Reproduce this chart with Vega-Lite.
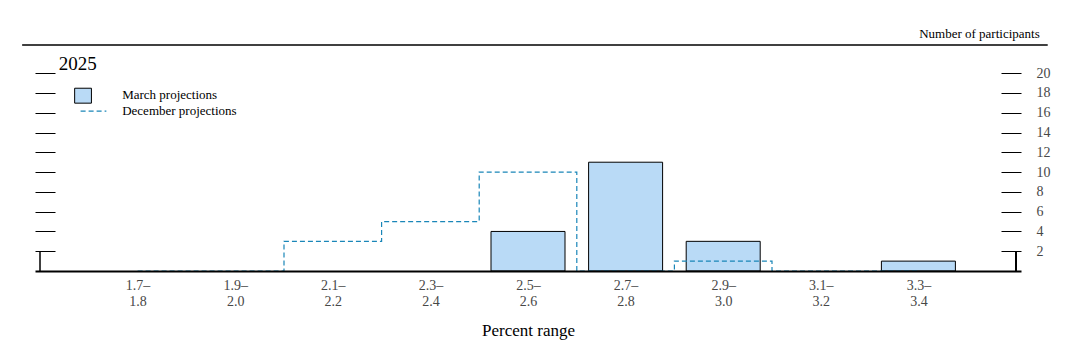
{
  "$schema": "https://vega.github.io/schema/vega-lite/v6.json",
  "width": 986,
  "height": 226,
  "autosize": {"type": "none"},
  "padding": {"left": 35, "top": 45, "right": 57, "bottom": 87},
  "background": "white",
  "config": {"view": {"stroke": null}, "font": "Liberation Serif"},
  "datasets": {
    "counts": [
      {"k": 1, "range": "1.7–1.8", "march": 0, "december": 0},
      {"k": 2, "range": "1.9–2.0", "march": 0, "december": 0},
      {"k": 3, "range": "2.1–2.2", "march": 0, "december": 3},
      {"k": 4, "range": "2.3–2.4", "march": 0, "december": 5},
      {"k": 5, "range": "2.5–2.6", "march": 4, "december": 10},
      {"k": 6, "range": "2.7–2.8", "march": 11, "december": 0},
      {"k": 7, "range": "2.9–3.0", "march": 3, "december": 1},
      {"k": 8, "range": "3.1–3.2", "march": 0, "december": 0},
      {"k": 9, "range": "3.3–3.4", "march": 1, "december": 0}
    ],
    "one": [{"item": 1}]
  },
  "data": {"name": "one"},
  "resolve": {"axis": {"y": "independent"}},
  "layer": [
    {
      "data": {"name": "counts"},
      "transform": [{"filter": "datum.march > 0"}],
      "mark": {"type": "bar", "width": 74, "fill": "#b9daf6", "stroke": "black", "strokeWidth": 1},
      "encoding": {
        "x": {
          "field": "k", "type": "quantitative",
          "scale": {"domain": [0, 10], "nice": false, "zero": false},
          "axis": {
            "orient": "bottom", "values": [1, 2, 3, 4, 5, 6, 7, 8, 9],
            "ticks": false, "grid": false, "zindex": 1,
            "domain": true, "domainColor": "black", "domainWidth": 2,
            "labelExpr": "[[''], ['1.7–','1.8'], ['1.9–','2.0'], ['2.1–','2.2'], ['2.3–','2.4'], ['2.5–','2.6'], ['2.7–','2.8'], ['2.9–','3.0'], ['3.1–','3.2'], ['3.3–','3.4']][datum.value]",
            "labelFont": "Liberation Serif", "labelFontSize": 14, "labelColor": "#474747",
            "labelBaseline": "top", "labelPadding": 7, "labelLineHeight": 16,
            "labelFlush": false, "labelOverlap": false,
            "title": "Percent range", "titleFont": "Liberation Serif", "titleFontSize": 17,
            "titleFontWeight": "normal", "titleColor": "black", "titlePadding": 14
          }
        },
        "y": {
          "field": "march", "type": "quantitative",
          "scale": {"domain": [0, 22.85], "nice": false, "zero": true},
          "axis": {
            "orient": "left", "values": [2, 4, 6, 8, 10, 12, 14, 16, 18, 20],
            "offset": -20, "tickSize": 20, "tickColor": "black", "tickWidth": 1,
            "labels": false, "domain": false, "grid": false, "title": null
          }
        }
      }
    },
    {
      "data": {"name": "counts"},
      "mark": {"type": "line", "interpolate": "step", "stroke": "#1a86b8", "strokeWidth": 1.2, "strokeDash": [5, 3]},
      "encoding": {
        "x": {"field": "k", "type": "quantitative"},
        "y": {
          "field": "december", "type": "quantitative",
          "axis": {
            "orient": "right", "values": [2, 4, 6, 8, 10, 12, 14, 16, 18, 20],
            "offset": -20, "tickSize": 20, "tickColor": "black", "tickWidth": 1,
            "labelPadding": 15, "labelFont": "Liberation Serif", "labelFontSize": 14,
            "labelColor": "#474747", "labelAlign": "left",
            "domain": false, "grid": false, "title": null
          }
        }
      }
    },
    {
      "mark": {"type": "rule", "stroke": "black", "strokeWidth": 1.5},
      "encoding": {
        "x": {"datum": 0, "type": "quantitative"},
        "y": {"datum": 0, "type": "quantitative", "axis": null},
        "y2": {"datum": 2}
      }
    },
    {
      "mark": {"type": "rule", "stroke": "black", "strokeWidth": 2},
      "encoding": {
        "x": {"datum": 10, "type": "quantitative"},
        "y": {"datum": 0, "type": "quantitative", "axis": null},
        "y2": {"datum": 2}
      }
    },
    {
      "mark": {"type": "rule", "stroke": "black", "strokeWidth": 1.3},
      "encoding": {
        "x": {"datum": -0.183, "type": "quantitative"},
        "x2": {"datum": 10.325},
        "y": {"datum": 22.85, "type": "quantitative", "axis": null}
      }
    },
    {
      "mark": {"type": "text", "text": "Number of participants", "align": "right", "baseline": "alphabetic", "font": "Liberation Serif", "fontSize": 13, "fontWeight": "normal", "color": "black"},
      "encoding": {
        "x": {"datum": 10.243, "type": "quantitative"},
        "y": {"datum": 23.54, "type": "quantitative", "axis": null}
      }
    },
    {
      "mark": {"type": "text", "text": "2025", "align": "left", "baseline": "alphabetic", "font": "Liberation Serif", "fontSize": 19, "fontWeight": "normal", "color": "black"},
      "encoding": {
        "x": {"datum": 0.193, "type": "quantitative"},
        "y": {"datum": 20.3, "type": "quantitative", "axis": null}
      }
    },
    {
      "mark": {"type": "rect", "fill": "#b9daf6", "stroke": "black", "strokeWidth": 1},
      "encoding": {
        "x": {"datum": 0.355, "type": "quantitative"},
        "x2": {"datum": 0.527},
        "y": {"datum": 18.48, "type": "quantitative", "axis": null},
        "y2": {"datum": 16.97}
      }
    },
    {
      "mark": {"type": "rule", "stroke": "#1a86b8", "strokeWidth": 1.2, "strokeDash": [5, 3]},
      "encoding": {
        "x": {"datum": 0.416, "type": "quantitative"},
        "x2": {"datum": 0.68},
        "y": {"datum": 16.16, "type": "quantitative", "axis": null}
      }
    },
    {
      "mark": {"type": "text", "text": "March projections", "align": "left", "baseline": "middle", "font": "Liberation Serif", "fontSize": 13, "fontWeight": "normal", "color": "black"},
      "encoding": {
        "x": {"datum": 0.842, "type": "quantitative"},
        "y": {"datum": 17.78, "type": "quantitative", "axis": null}
      }
    },
    {
      "mark": {"type": "text", "text": "December projections", "align": "left", "baseline": "middle", "font": "Liberation Serif", "fontSize": 13, "fontWeight": "normal", "color": "black"},
      "encoding": {
        "x": {"datum": 0.842, "type": "quantitative"},
        "y": {"datum": 16.16, "type": "quantitative", "axis": null}
      }
    }
  ]
}
